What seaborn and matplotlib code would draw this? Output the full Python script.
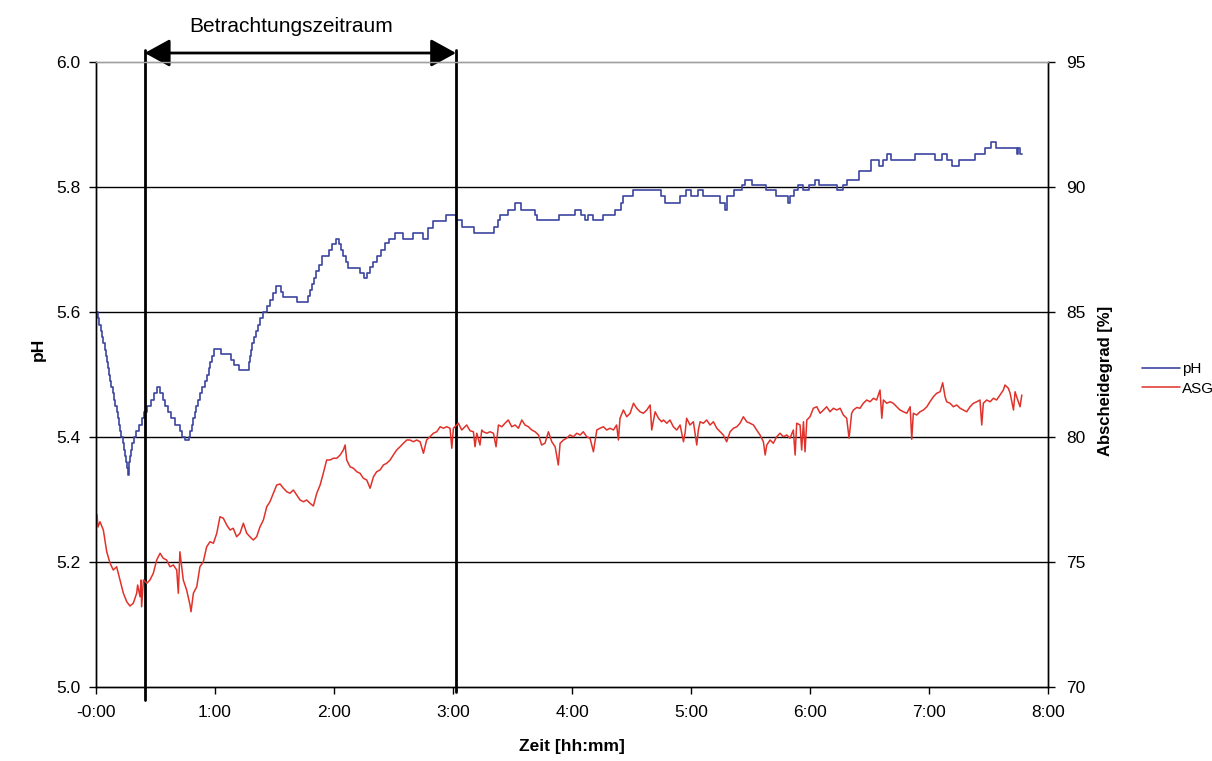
import numpy as np
import pandas as pd
import matplotlib
matplotlib.use("Agg")
import matplotlib.pyplot as plt
import seaborn as sns

# ---------------------------------------------------------------- data
# pH readings (minute of change, value held until the next change)
ph_minutes = [
    0.0, 0.8, 1.5, 2.3, 3.0, 3.7, 4.3, 4.8, 5.4, 6.0, 6.5, 7.1, 7.8, 8.4, 9.1, 9.8,
    10.4, 11.0, 11.6, 12.2, 12.8, 13.4, 14.0, 14.6, 15.1, 15.6, 16.0,
    16.4, 16.8, 17.2, 17.7, 18.2, 19.0, 20.3, 21.8, 23.0, 24.2, 25.8, 27.6, 29.4, 30.9,
    32.4, 33.6, 34.8, 36.2, 38.0, 40.0, 42.4, 43.6, 44.8,
    47.0, 47.6, 48.2, 49.0, 49.8, 50.6, 51.4, 52.2, 53.4, 54.8, 56.0, 56.8, 57.6, 58.6,
    59.6, 62.9, 67.9, 69.6, 72.1,
    77.1, 77.6, 78.2, 78.8, 79.6, 80.6, 81.6, 82.8, 84.2, 86.2, 87.6, 89.0, 90.6, 93.1,
    94.2, 101.5,
    107.0, 107.9, 108.8, 109.8, 110.8, 112.2, 113.8, 117.6, 119.2, 120.8, 122.7, 123.4,
    124.6, 126.0, 127.2, 133.1, 135.1, 136.6, 138.1, 139.6, 141.6, 143.8, 145.6, 147.6,
    150.6, 154.9, 160.0, 165.0, 167.5, 169.8, 176.5, 181.5, 184.4, 190.6, 200.5, 202.5,
    203.5, 207.5, 211.5, 214.5, 221.5, 222.5, 233.5, 241.5, 244.6, 246.6, 248.0, 250.6,
    255.6, 261.6, 264.6, 265.6, 270.6, 284.7, 286.7, 294.7, 297.7, 300.1, 303.3, 306.1,
    314.7, 317.3, 318.1, 321.7, 325.7, 327.3, 330.7, 337.7, 342.7, 348.7, 349.7, 351.7,
    353.7, 356.7, 359.7, 362.7, 364.7, 373.6, 376.6, 378.6, 384.6, 390.6, 394.6, 396.6,
    398.6, 400.6, 413.0, 423.0, 426.4, 428.9, 431.4, 435.3, 443.2, 448.2, 451.1, 453.7,
    464.2, 465.0, 465.7, 466.7,
]
ph_values = [
    5.60, 5.59, 5.58, 5.57, 5.56, 5.55, 5.54, 5.53, 5.52, 5.51, 5.50, 5.49, 5.48, 5.47, 5.46, 5.45,
    5.44, 5.43, 5.42, 5.41, 5.40, 5.39, 5.38, 5.37, 5.36, 5.35, 5.34,
    5.35, 5.36, 5.37, 5.38, 5.39, 5.40, 5.41, 5.42, 5.43, 5.44, 5.45, 5.46, 5.47, 5.48,
    5.47, 5.46, 5.45, 5.44, 5.43, 5.42, 5.41, 5.40, 5.395,
    5.40, 5.41, 5.42, 5.43, 5.44, 5.45, 5.46, 5.47, 5.48, 5.49, 5.50, 5.51, 5.52, 5.53,
    5.541, 5.533, 5.523, 5.515, 5.507,
    5.52, 5.53, 5.54, 5.55, 5.56, 5.57, 5.58, 5.59, 5.60, 5.61, 5.62, 5.63, 5.642, 5.632,
    5.624, 5.616,
    5.625, 5.635, 5.645, 5.655, 5.665, 5.675, 5.689, 5.700, 5.709, 5.717, 5.709, 5.700,
    5.689, 5.680, 5.670, 5.662, 5.654, 5.662, 5.672, 5.680, 5.690, 5.700, 5.710, 5.717,
    5.726, 5.717, 5.726, 5.717, 5.734, 5.746, 5.755, 5.747, 5.736, 5.726, 5.736, 5.747,
    5.755, 5.764, 5.775, 5.764, 5.755, 5.747, 5.755, 5.764, 5.755, 5.747, 5.755, 5.747,
    5.755, 5.764, 5.775, 5.785, 5.795, 5.785, 5.775, 5.785, 5.795, 5.785, 5.795, 5.785,
    5.775, 5.764, 5.785, 5.795, 5.804, 5.812, 5.804, 5.795, 5.785, 5.775, 5.785, 5.795,
    5.804, 5.795, 5.804, 5.812, 5.804, 5.795, 5.804, 5.812, 5.825, 5.843, 5.833, 5.843,
    5.853, 5.843, 5.853, 5.843, 5.853, 5.843, 5.833, 5.843, 5.853, 5.862, 5.872, 5.862,
    5.853, 5.862, 5.853, 5.853,
]

# Abscheidegrad (ASG) readings in percent
asg_minutes = [
    0.0, 0.5, 1.0, 2.0, 3.7, 5.4, 7.1, 8.7, 10.4, 12.1, 13.8, 15.5, 17.1, 18.8, 20.5, 21.0,
    22.2, 22.7, 23.0, 23.9, 25.6, 27.2, 28.9, 30.6, 32.3, 33.9, 35.6, 37.3, 39.0, 40.7,
    41.5, 42.3, 44.0, 45.7, 47.4, 47.9, 49.1, 50.8, 52.4, 54.1, 55.8, 57.5, 59.2, 60.9,
    62.5, 64.2, 65.9, 67.6, 69.2, 70.9, 72.6, 74.3, 76.0, 77.6, 79.3, 81.0, 82.7, 84.4,
    86.1, 87.7, 89.4, 91.1, 92.8, 94.5, 96.2, 97.8, 99.5, 101.2, 102.9, 104.6, 106.2,
    107.9, 109.6, 111.3, 113.0, 114.6, 116.3, 118.0, 119.7, 121.4, 123.1, 124.7, 125.6,
    126.4, 128.1, 129.8, 131.5, 133.1, 134.8, 136.5, 138.2, 139.9, 141.5, 143.2, 144.9,
    146.6, 148.3, 149.9, 151.6, 153.3, 155.0, 156.7, 158.3, 160.0, 161.7, 163.4, 165.1,
    166.7, 168.4, 170.1, 171.8, 173.5, 175.2, 176.8, 178.5, 179.4, 180.2, 182.7, 184.4,
    186.9, 188.6, 190.3, 191.1, 192.0, 193.6, 194.5, 195.3, 197.0, 198.7, 200.4, 201.7,
    202.9, 204.6, 206.2, 207.9, 209.6, 211.3, 213.0, 214.7, 216.3, 218.0, 219.7, 221.4,
    223.1, 224.7, 226.4, 228.1, 229.8, 231.5, 233.1, 234.0, 235.7, 237.3, 239.0, 240.7,
    242.4, 244.1, 245.7, 247.4, 249.1, 250.8, 252.5, 254.1, 255.8, 257.5, 259.2, 260.9,
    262.5, 263.4, 264.2, 265.9, 267.6, 269.3, 271.0, 272.6, 274.3, 276.0, 277.7, 279.4,
    280.2, 281.9, 283.6, 285.2, 286.1, 287.8, 289.4, 291.1, 292.8, 294.5, 296.2, 297.0,
    297.8, 299.5, 301.2, 302.9, 303.7, 304.6, 306.2, 307.9, 309.6, 311.3, 313.0, 314.7,
    316.3, 318.0, 319.7, 321.4, 323.1, 324.7, 326.4, 328.1, 329.8, 331.5, 333.1, 334.8,
    336.5, 337.4, 338.2, 339.9, 341.5, 343.2, 344.9, 346.6, 348.3, 349.9, 351.6, 352.5,
    353.3, 355.0, 355.8, 356.7, 357.5, 358.4, 360.0, 361.7, 363.4, 365.1, 366.8, 368.4,
    370.1, 371.8, 373.5, 375.2, 376.8, 378.5, 379.7, 381.0, 381.9, 383.6, 385.2, 386.9,
    388.6, 390.3, 392.0, 393.6, 395.3, 396.2, 397.0, 398.7, 400.4, 402.0, 403.7, 405.4,
    407.1, 408.8, 410.5, 411.3, 412.1, 413.8, 415.5, 417.2, 418.9, 420.5, 422.2, 423.9,
    425.6, 426.9, 428.1, 428.9, 430.6, 432.3, 434.0, 435.7, 437.3, 439.0, 440.7, 442.4,
    444.1, 445.7, 446.6, 447.4, 449.1, 450.8, 452.5, 454.1, 455.8, 457.5, 458.3, 460.0,
    460.9, 462.6, 463.4, 464.2, 465.9, 466.8,
]
asg_values = [
    76.50, 76.90, 76.40, 76.61, 76.28, 75.41, 74.95, 74.68, 74.81, 74.28, 73.75, 73.41, 73.24, 73.35, 73.75, 74.08,
    73.61, 74.28, 73.21, 74.28, 74.15, 74.28, 74.55, 75.08, 75.35, 75.15, 75.08, 74.81, 74.88, 74.68,
    73.75, 75.41, 74.28, 73.88, 73.28, 73.01, 73.75, 74.01, 74.81, 75.01, 75.61, 75.81, 75.75, 76.15,
    76.81, 76.75, 76.48, 76.28, 76.35, 76.01, 76.15, 76.55, 76.15, 76.01, 75.88, 76.01, 76.41, 76.68,
    77.21, 77.41, 77.75, 78.08, 78.12, 77.95, 77.81, 77.75, 77.88, 77.68, 77.48, 77.41, 77.48,
    77.35, 77.24, 77.75, 78.08, 78.55, 79.08, 79.08, 79.15, 79.15, 79.28, 79.48, 79.68,
    79.08, 78.81, 78.75, 78.61, 78.55, 78.35, 78.28, 77.95, 78.41, 78.61, 78.68, 78.88,
    78.95, 79.08, 79.28, 79.48, 79.61, 79.75, 79.88, 79.88, 79.81, 79.88, 79.81, 79.35,
    79.88, 80.01, 80.15, 80.21, 80.41, 80.35, 80.41, 80.35, 79.55, 80.35, 80.55, 80.28,
    80.48, 80.25, 80.21, 79.61, 80.15, 79.68, 80.28, 80.21, 80.15, 80.21, 80.15, 79.61,
    80.48, 80.41, 80.55, 80.68, 80.41, 80.48, 80.35, 80.68, 80.48, 80.41, 80.28, 80.21,
    80.08, 79.68, 79.75, 80.21, 79.81, 79.61, 78.88, 79.75, 79.88, 79.95, 80.08, 80.01,
    80.15, 80.08, 80.21, 80.01, 79.95, 79.41, 80.28, 80.35, 80.41, 80.28, 80.35, 80.28,
    80.48, 79.88, 80.75, 81.08, 80.81, 80.95, 81.35, 81.15, 81.01, 80.95, 81.08, 81.28,
    80.28, 81.01, 80.75, 80.61, 80.68, 80.55, 80.68, 80.41, 80.28, 80.48, 79.81, 80.15,
    80.75, 80.48, 80.61, 79.68, 80.28, 80.61, 80.55, 80.68, 80.48, 80.61, 80.35, 80.21,
    80.08, 79.81, 80.21, 80.35, 80.41, 80.55, 80.81, 80.61, 80.55, 80.48, 80.28, 80.08,
    79.81, 79.28, 79.68, 79.88, 79.75, 80.01, 80.15, 80.01, 80.08, 79.95, 80.28, 79.28,
    80.55, 80.48, 79.48, 80.61, 79.41, 80.68, 80.81, 81.15, 81.21, 80.95, 81.08, 81.21,
    81.01, 81.15, 81.08, 81.15, 80.88, 80.75, 79.95, 80.95, 81.08, 81.18, 81.15, 81.35,
    81.48, 81.41, 81.55, 81.48, 81.88, 80.75, 81.48, 81.35, 81.41, 81.35, 81.21, 81.08,
    81.01, 80.95, 81.21, 79.91, 80.95, 80.88, 81.01, 81.08, 81.21, 81.41, 81.61, 81.75,
    81.81, 82.17, 81.61, 81.41, 81.35, 81.21, 81.28, 81.15, 81.08, 81.01, 81.21, 81.35,
    81.41, 81.48, 80.48, 81.35, 81.48, 81.41, 81.55, 81.48, 81.68, 81.88, 82.08, 81.95,
    81.75, 81.08, 81.81, 81.61, 81.21, 81.68,
]

x_ticks = [0, 1, 2, 3, 4, 5, 6, 7, 8]
x_tick_labels = ["-0:00", "1:00", "2:00", "3:00", "4:00", "5:00", "6:00", "7:00", "8:00"]
ph_ticks = [5.0, 5.2, 5.4, 5.6, 5.8, 6.0]
asg_ticks = [70, 75, 80, 85, 90, 95]

# observation window (hours)
window_start = 0.41
window_end = 3.025

# ---------------------------------------------------------------- style
sns.set_style("white")
plt.rcParams["font.family"] = ["Liberation Sans", "DejaVu Sans"]
plt.rcParams.update({
    "text.color": "black",
    "axes.labelcolor": "black",
    "xtick.color": "black",
    "ytick.color": "black",
})

PH_COLOR = "#3c46a0"
ASG_COLOR = "#e0322a"

fig = plt.figure(figsize=(12.12, 7.61), dpi=100)
ax = fig.add_axes([96 / 1212, 1 - 687 / 761, 952 / 1212, 625 / 761])
ax2 = ax.twinx()

ph_df = pd.DataFrame({"Zeit": np.array(ph_minutes) / 60.0, "pH": ph_values})
asg_df = pd.DataFrame({"Zeit": np.array(asg_minutes) / 60.0, "ASG": asg_values})

# horizontal grid (drawn by hand so the top line can be grey)
for v in ph_ticks[1:-1]:
    ax.axhline(v, color="black", lw=1.0, zorder=0.5)

sns.lineplot(data=ph_df, x="Zeit", y="pH", ax=ax, color=PH_COLOR, lw=1.2,
             drawstyle="steps-post", estimator=None, sort=False, legend=False)
ph_line = ax.get_lines()[-1]
sns.lineplot(data=asg_df, x="Zeit", y="ASG", ax=ax2, color=ASG_COLOR, lw=1.1,
             estimator=None, sort=False, legend=False)
asg_line = ax2.get_lines()[-1]

ax.set_xlim(0, 8)
ax.set_ylim(5.0, 6.0)
ax2.set_ylim(70, 95)

ax.set_xticks(x_ticks)
ax.set_xticklabels(x_tick_labels)
ax.set_yticks(ph_ticks)
ax.set_yticklabels([f"{v:.1f}" for v in ph_ticks])
ax2.set_yticks(asg_ticks)
ax2.set_yticklabels([str(v) for v in asg_ticks])

for a in (ax, ax2):
    for s in a.spines.values():
        s.set_color("black")
        s.set_linewidth(1.0)
    a.spines["top"].set_color("#a0a0a0")
ax.tick_params(axis="x", direction="out", length=5, width=1, pad=8, labelsize=12.5, bottom=True)
ax.tick_params(axis="y", direction="out", length=5, width=1, pad=6, labelsize=12.5, left=True)
ax2.tick_params(axis="y", direction="out", length=5, width=1, pad=8, labelsize=12.5, right=True)

ax.set_xlabel("Zeit [hh:mm]", fontsize=12.5, fontweight="bold")
ax.set_ylabel("pH", fontsize=12.5, fontweight="bold")
ax2.set_ylabel("Abscheidegrad [%]", fontsize=12, fontweight="bold")
ax.xaxis.set_label_coords(0.5, -0.083)
ax.yaxis.set_label_coords(-0.0525, 0.54)
ax2.yaxis.set_label_coords(1.053, 0.49)

# observation window: vertical markers and double arrow
ax.plot([window_start, window_start], [-0.021, 1.019], color="black", lw=2,
        transform=ax.get_xaxis_transform(), clip_on=False, zorder=5)
ax.plot([window_end, window_end], [-0.008, 1.019], color="black", lw=2,
        transform=ax.get_xaxis_transform(), clip_on=False, zorder=5)
ax.annotate("", xy=(window_end, 1.0144), xytext=(window_start, 1.0144),
            xycoords=("data", "axes fraction"), textcoords=("data", "axes fraction"),
            arrowprops=dict(arrowstyle="<|-|>,head_length=1.0,head_width=0.55",
                            mutation_scale=15.5, color="black", lw=2,
                            shrinkA=0, shrinkB=0))
ax.text((window_start + window_end) / 2 - 0.08, 1.057, "Betrachtungszeitraum",
        transform=ax.get_xaxis_transform(), ha="center", va="center", fontsize=15)

fig.legend([ph_line, asg_line], ["pH", "ASG"], loc="center left",
           bbox_to_anchor=(1128 / 1212, 1 - 379 / 761), frameon=False,
           fontsize=11, handlelength=2.5, handletextpad=0.15, labelspacing=0.35)

fig.savefig("out.png", dpi=100, facecolor="white")
